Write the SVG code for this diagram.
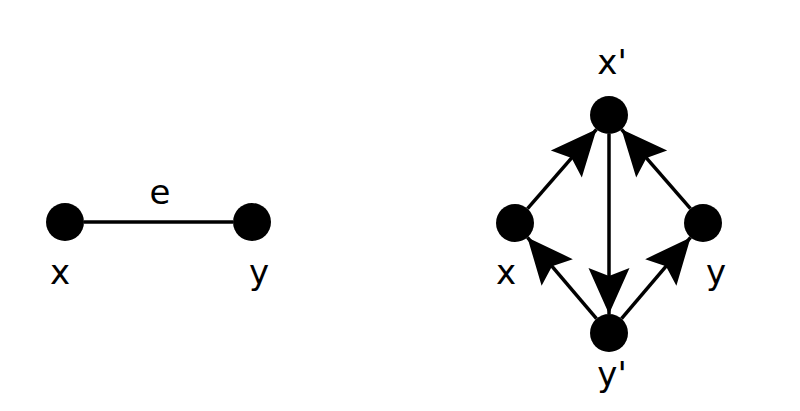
<svg xmlns="http://www.w3.org/2000/svg" width="800" height="411" viewBox="0 0 800 411">
<defs>
<style>
.node{fill:#000}
.edge{stroke:#000;stroke-width:3.5;fill:none}
.lbl{font-family:"DejaVu Sans",sans-serif;font-size:34px;fill:#000;text-anchor:middle}
</style>
<marker id="ah" markerUnits="userSpaceOnUse" viewBox="-48 -22 50 44" refX="0" refY="0" markerWidth="50" markerHeight="44" orient="auto">
<path d="M0,0 L-46,-20.5 L-38,0 L-46,20.5 Z" fill="#000"/>
</marker>
</defs>
<g id="connectors">
<line class="edge" x1="84" y1="222" x2="233" y2="222"/>
<line class="edge" x1="527.5" y1="208.7" x2="596.5" y2="129.3" marker-end="url(#ah)"/>
<line class="edge" x1="690.5" y1="208.7" x2="621.5" y2="129.3" marker-end="url(#ah)"/>
<line class="edge" x1="609" y1="134" x2="609" y2="314" marker-end="url(#ah)"/>
<line class="edge" x1="596.5" y1="318.6" x2="527.4" y2="237.4" marker-end="url(#ah)"/>
<line class="edge" x1="621.5" y1="318.6" x2="690.6" y2="237.4" marker-end="url(#ah)"/>
</g>
<text class="lbl" x="160" y="204">e</text>
<g id="node-x1"><circle class="node" cx="65" cy="222" r="19"/><text class="lbl" x="60" y="284">x</text></g>
<g id="node-y1"><circle class="node" cx="252" cy="222" r="19"/><text class="lbl" x="259" y="284">y</text></g>
<g id="node-xp"><circle class="node" cx="609" cy="115" r="19"/><text class="lbl" x="612" y="74">x'</text></g>
<g id="node-x2"><circle class="node" cx="515" cy="223" r="19"/><text class="lbl" x="506" y="284">x</text></g>
<g id="node-y2"><circle class="node" cx="703" cy="223" r="19"/><text class="lbl" x="716" y="284">y</text></g>
<g id="node-yp"><circle class="node" cx="609" cy="333" r="19"/><text class="lbl" x="612" y="386">y'</text></g>
</svg>
